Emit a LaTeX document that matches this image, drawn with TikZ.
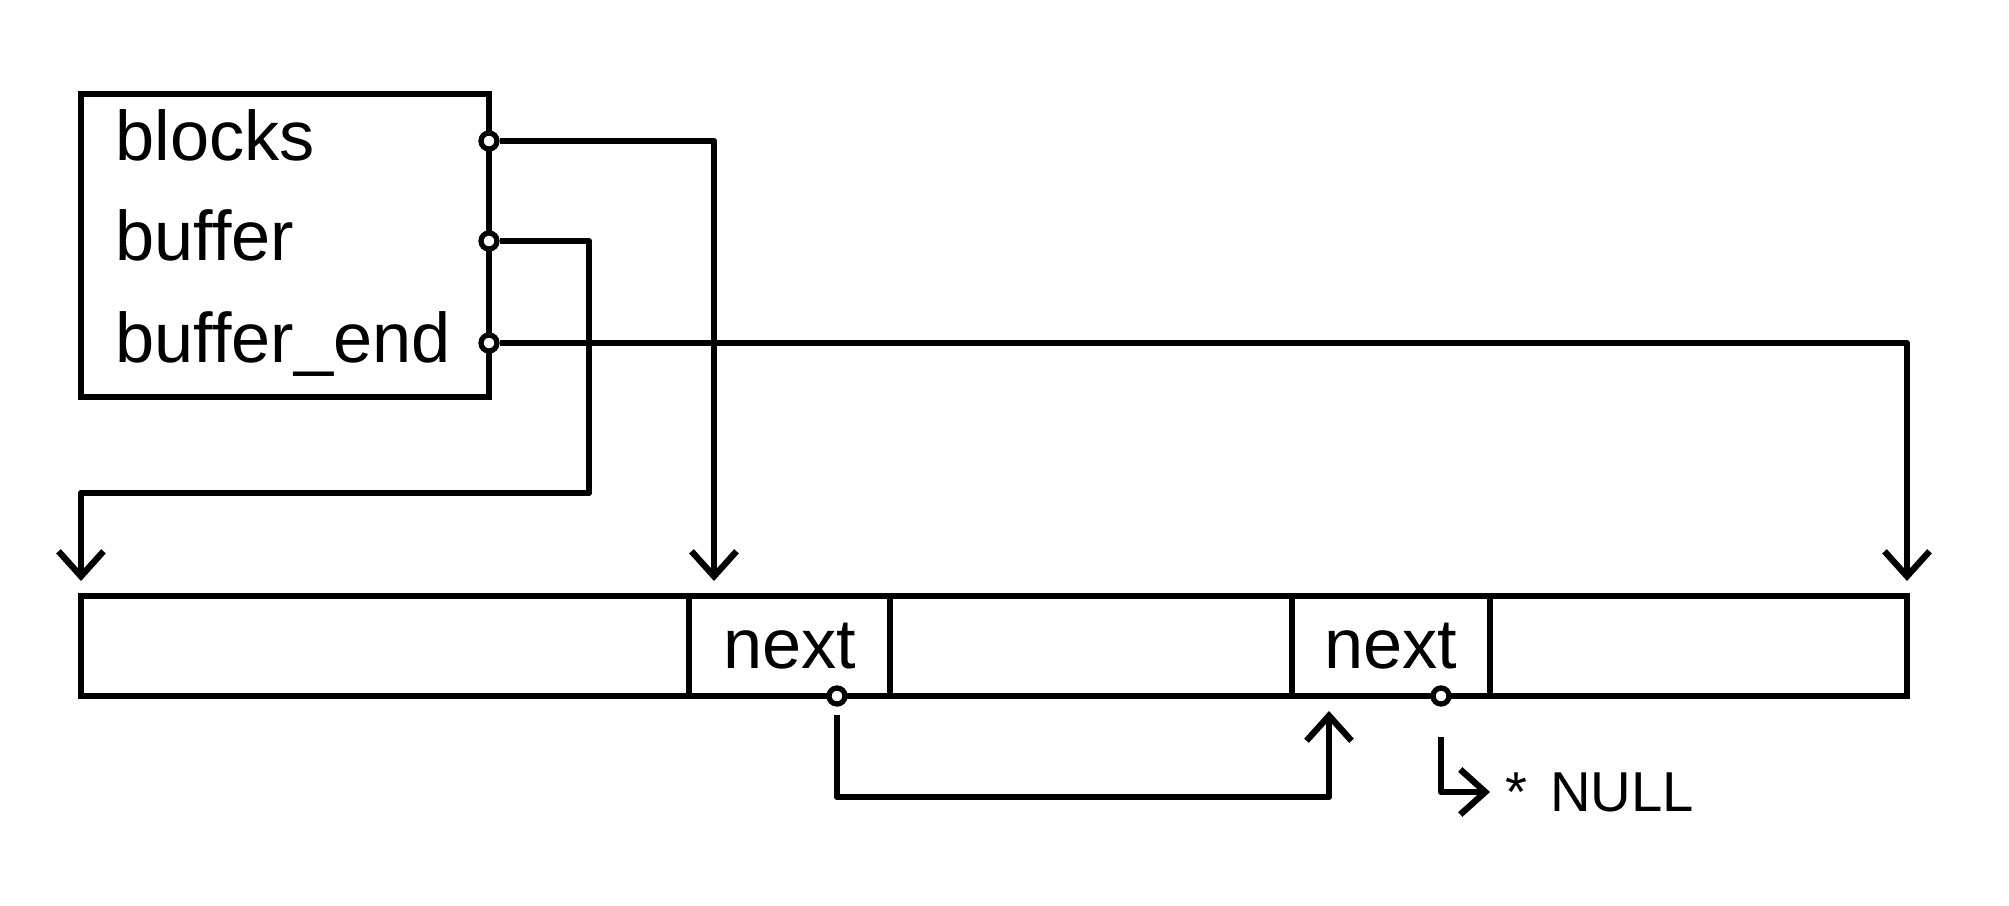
\documentclass[tikz,border=0pt]{standalone}
\usepackage{fontspec}
\setmainfont{Liberation Sans}
\usetikzlibrary{arrows.meta,positioning}

\begin{document}
\begin{tikzpicture}
  [every node/.style={font=\fontsize{20}{24}\selectfont},
   record/.style={rectangle,draw,line width=1.8pt,outer sep=0pt,inner sep=0pt},
   cell/.style={record,minimum height=1cm},
   field/.style={anchor=west,inner sep=0pt,text height=2.3ex,text depth=.23ex},
   port/.style={circle,draw,fill=white,line width=1.5pt,
                inner sep=0pt,minimum size=1.6mm},
   ptr/.style={line width=1.8pt,line join=round,shorten >=1.5mm,
               -{Straight Barb[length=2.5mm,width=4.5mm]}}]
  \useasboundingbox (0,0) rectangle (20.09,9.05);
  % allocator state
  \node at (2.85,6.595) [record,minimum width=4.08cm,minimum height=3.03cm] (state) {};
  \node [field] (lblocks) at ([xshift=3.4mm,yshift=-4.7mm]state.north west) {blocks};
  \node [field,below=1cm of lblocks.west,anchor=west] (lbuffer) {buffer};
  \node [field,below=1.02cm of lbuffer.west,anchor=west] (lend) {buffer\_end};
  \node [port] (pblocks) at (state.east |- lblocks) {};
  \node [port] (pbuffer) at (state.east |- lbuffer) {};
  \node [port] (pend) at (state.east |- lend) {};
  % the buffer
  \node at (3.85,2.59) [cell,minimum width=6.08cm] (buf0) {};
  \node [cell,minimum width=2.01cm,right=0pt of buf0] (nxt1) {next};
  \node [cell,minimum width=4.02cm,right=0pt of nxt1] (buf1) {};
  \node [cell,minimum width=1.98cm,right=0pt of buf1] (nxt2) {next};
  \node [cell,minimum width=4.17cm,right=0pt of nxt2] (buf2) {};
  \node [port] (pnext1) at ([xshift=-5.3mm]nxt1.south east) {};
  \node [port] (pnext2) at ([xshift=-4.9mm]nxt2.south east) {};
  \node [field,font=\fontsize{16}{19}\selectfont] (null) at (15.05,1.13) {*\hspace{0.4em}NULL};
  \coordinate (bufturn) at (5.89,4.12);
  \coordinate (nextturn) at (13.29,1.08);
  % pointers
  \draw [ptr] (pblocks) -| ([xshift=2.5mm]nxt1.north west);
  \draw [ptr] (pbuffer) -| (bufturn) -| (buf0.north west);
  \draw [ptr] (pend) -| (buf2.north east);
  \draw [ptr,shorten <=0.8mm] (pnext1) |- (nextturn) -- (nextturn |- nxt2.south);
  \draw [ptr,shorten <=3mm] (pnext2) |- (null);
\end{tikzpicture}
\end{document}
